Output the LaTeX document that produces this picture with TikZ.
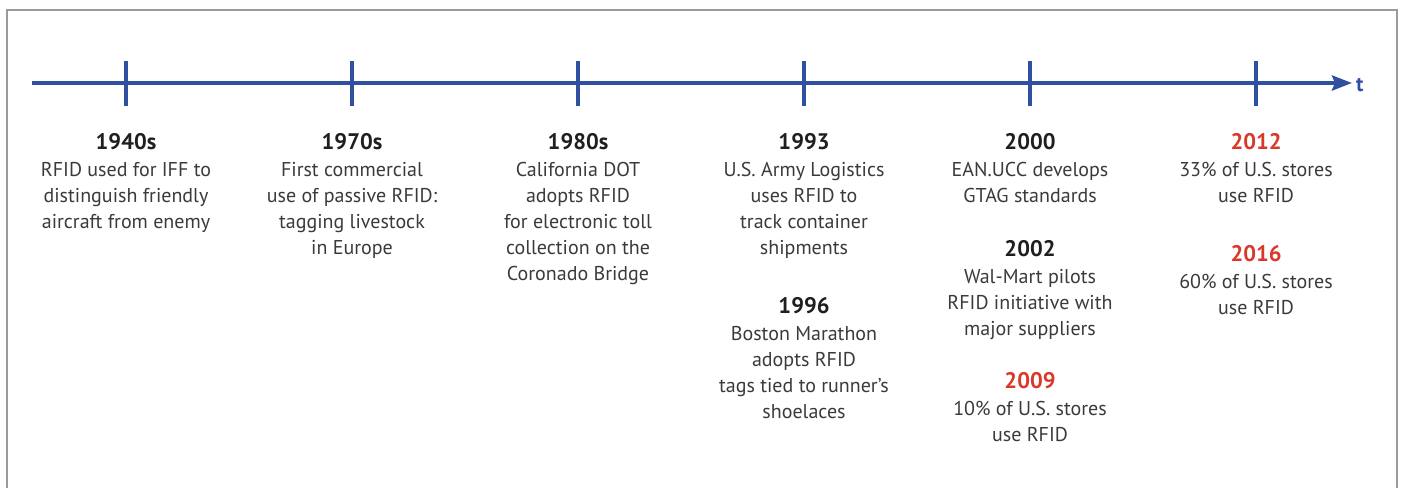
\documentclass[tikz,border=0pt]{standalone}
\usepackage{fontspec}
\setmainfont{PT Sans}
\usetikzlibrary{arrows.meta}
\definecolor{axisblue}{HTML}{2F4F9F}
\definecolor{yearred}{HTML}{D9382A}
\definecolor{bodygray}{HTML}{3A3A3A}
\definecolor{framegray}{HTML}{9A9A9A}
\tikzset{
  axis/.style={draw=axisblue, line width=4pt},
  tick/.style={draw=axisblue, line width=4pt},
  block/.style={anchor=north, inner sep=0pt, align=center, text=bodygray,
    font=\fontsize{20}{26}\selectfont},
}
\newcommand{\yr}[1]{{\fontsize{22.5}{26}\selectfont\bfseries\color{black!88}#1}\\[1pt]}
\newcommand{\ryr}[1]{{\fontsize{22.5}{26}\selectfont\bfseries\color{yearred}#1}\\[1pt]}
\begin{document}
\begin{tikzpicture}[x=1pt,y=-1pt]
\useasboundingbox (0,0) rectangle (1405,488);
\draw[framegray, line width=2pt] (7,488) -- (7,10) -- (1397,10) -- (1397,488);
\coordinate (start) at (32,83);
\coordinate (end) at (1352,83);
\draw[axis, -{Stealth[length=20pt,width=15pt,inset=3pt]}] (start) -- (end);
\node[anchor=west, text=axisblue, font=\fontsize{21}{24}\selectfont\bfseries, inner sep=0pt] (tlabel) at (1356,85) {t};
\foreach \x/\n in {126/a,352/b,578/c,804/d,1030/e,1256/f}{
  \coordinate (t\n) at (\x,83);
  \draw[tick] (\x,61) -- (\x,106);
}
\node[block] (b1940) at (126,133) {\yr{1940s}RFID used for IFF to\\distinguish friendly\\aircraft from enemy};
\node[block] (b1970) at (352,133) {\yr{1970s}First commercial\\use of passive RFID:\\tagging livestock\\in Europe};
\node[block] (b1980) at (578,133) {\yr{1980s}California DOT\\adopts RFID\\for electronic toll\\collection on the\\Coronado Bridge};
\node[block] (b1993) at (804,133) {\yr{1993}U.S. Army Logistics\\uses RFID to\\track container\\shipments};
\node[block] (b1996) at (804,297) {\yr{1996}Boston Marathon\\adopts RFID\\tags tied to runner’s\\shoelaces};
\node[block] (b2000) at (1030,133) {\yr{2000}EAN.UCC develops\\GTAG standards};
\node[block] (b2002) at (1030,240) {\yr{2002}Wal-Mart pilots\\RFID initiative with\\major suppliers};
\node[block] (b2009) at (1030,372) {\ryr{2009}10\% of U.S. stores\\use RFID};
\node[block] (b2012) at (1256,133) {\ryr{2012}33\% of U.S. stores\\use RFID};
\node[block] (b2016) at (1256,245) {\ryr{2016}60\% of U.S. stores\\use RFID};
\end{tikzpicture}
\end{document}
